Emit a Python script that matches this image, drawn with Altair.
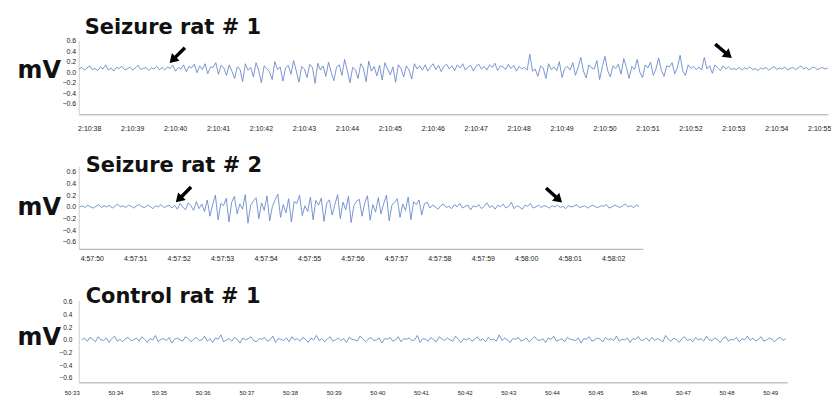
import json
import pandas as pd
import altair as alt

# ---------------- data ----------------
# EEG traces, values in hundredths of a mV, one sample every 1/16 s
sample_step = 1 / 16

seizure1_t0 = 37.76  # seconds after 2:10:00
seizure1 = [
    6, 9, 4, 8, 12, 5, 7, 3, 10, 6, 14, 4, 8, 2, 9, 7, 11, 5, 6, 10, 4, 8, 13, 5, 7, 9, 3, 8, 6, 11, 5, 9,
    4, 10, 7, 13, 2, 9, 6, 14, 1, 11, 8, 15, -1, 12, 5, 16, -3, 10, 9, 18, -4, 13,
    8, -6, 14, 2, -12, 10, 6, -18, 16, 4, 9, -9, 18, 3, -20, 12, 7, 1, -14, 20,
    5, 10, -17, 8, 13, -4, 22, 2, -19, 11, 6, -10, 15, 9, -21, 17, 4, 12, -8, 19,
    0, -16, 10, 14, -6, 24, 3, -20, 9, 5, -12, 16, 8, -18, 21, 2, 11, -7, 13, -15,
    18, 6, -5, 10, -19, 14, 7, -9, 12, 4, -13, 16, 6,
    12, 4, 14, 2, 10, 16, 5, 13, 1, 11, 15, 6, 12, 3, 14, 8, 16, 4, 10, 13,
    2, 12, 15, 6, 11, 4, 14, 9, 17, 3, 12, 10, 5, 15, 7, 13, 2, 11, 6,
    9, 4, 34, 2, 6, -8, 12, 8, -12, 16, 5, 10, 3, 20, -10, 7, 11, 4, 18, -6,
    9, 28, 2, -11, 14, 8, 6, 22, -14, 10, 30, 3, -9, 12, 7, 15, -4, 26, 9, -12,
    11, 5, 24, 0, -10, 14, 8, 19, -6, 6, 27, 4, -8, 12, 10, 18, -3, 9, 32, 2,
    -6, 14, 7, 11, 5,
    10, 4, 28, 6, 12, -2, 14, 8, 3, 12, 6, 10, 5,
    7, 5, 9, 4, 8, 6, 10, 5, 7, 3, 8, 6, 9, 4, 7, 11, 5, 8, 6, 10,
    4, 7, 9, 5, 8, 12, 6, 9, 4, 8, 10, 5, 7, 9, 6, 8,
]

seizure2_t0 = 49.72  # seconds after 4:57:00
seizure2 = [
    0, 2, -1, 3, 0, -2, 1, 4, -1, 2, 0, 3, -2, 1, 5, 0, 2, -1, 3, 1,
    -2, 2, 4, 0, -1, 3, 1, -3, 2, 0, 4, -1, 1, 3, -2,
    3, -4, 6, 0, -5, 7, 2, -6, 9, -3, 5, -8,
    12, -16, 4, 20, -22, 6, 2, 15, -26, 8, 18, -12, 5, -4, 21, -28, 3, 10, 16, -20,
    7, -6, 19, -24, 1, 12, 22, -18, 4, -10, 14, -26, 9, 6, 20, -15, 2, -8, 17, -22,
    11, 3, 15, -25, 6, 12, -14, 4, 21, -20, 8, -5, 18, -27, 2, 10, 13, -16, 7, 19,
    -23, 4, -9, 16, -12, 6, 20, -24, 3, 8, 14, -18, 5, -6, 17, -22, 9, 4, 12, -14,
    6, 8,
    -2, 3, 0, -4, 2, 5, -1, 1, -3, 4, 0, 6, -2, 1, 3, -5, 2, 0, 4, -3,
    1, 7, -1, 2, -4, 3, 0, 5, -2, 1, 8, -3, 2, 0, -4, 3, 1, 6, -2, 0, 3, -1, 2,
    1, -2, 2, 0, 3, -1, 1, -3, 2, 0, 1, 4, -1, 0, 2, -2, 1, 3, 0, -1,
    2, 1, 4, -2, 0, 3, 1, -1, 2, 5, 0, 2, -1, 3, 1,
]

control1_t0 = 33.07  # seconds after 50:00
control1 = [
    0, 3, -2, 4, 1, -3, 5, 0, -1, 3, -4, 2, 6, -2, 1, -3, 2, 4, -1, 0,
    3, -2, 5, 1, -4, 2, 0, 7, -3, 1, 2, -1, 4, -5, 1, 3, 0, -2, 5, 2,
    -3, 1, 4, -1, 0, 6, -2, 2, -4, 3, 1, 8, -3, 0, 2, -2, 4, 1, -5, 3,
    0, 2, 5, -1, -3, 2, 1, 4, -2, 0, 6, -4, 2, 1, -1, 3, -3, 5, 0, 2,
    -2, 4, 1, -4, 3, 0, 7, -1, 2, -3, 1, 5, -2, 0, 3, -1, 2, -4, 4, 1,
    0, -2, 6, 2, -3, 1, 4, -1, 0, 3, -5, 2, 1, 4, -2, 0, 5, -3, 2, 1,
    3, -1, 0, 7, -4, 2, 1, -2, 4, 0, -3, 5, 2, -1, 3, 0, -2, 6, 1, -4,
    2, 0, 3, -2, 1, 5, -1, 2, -3, 4, 0, 1, -2, 8, -1, 3, 0, -4, 2, 1,
    4, -2, 0, 3, -3, 1, 5, 0, -1, 2, -4, 3, 1, 6, -2, 0, 2, -3, 4, 1,
    0, -1, 3, -5, 2, 1, 5, -2, 0, 3, 1, -3, 4, 0, 2, -1, 6, -2, 1, 0,
    3, -4, 2, 1, 5, -1, 0, 3, -2, 4, -1, 2, 0, -3, 7, 1, -2, 3, 0, -4,
    2, 5, -1, 1, -3, 4, 0, 2, -2, 6, 0, -1, 3, 1, -4, 2, 5, -2, 1, 0,
    4, -3, 2, 0, 6, -1, 3, -2, 1, 5, -2, 0, 3, 1, -3, 2, 4, -1, 2,
]

panel_titles = ["Seizure rat # 1", "Seizure rat # 2", "Control rat # 1"]

seizure1_ticks = list(range(38, 56))
seizure1_labels = ["2:10:38", "2:10:39", "2:10:40", "2:10:41", "2:10:42", "2:10:43",
                   "2:10:44", "2:10:45", "2:10:46", "2:10:47", "2:10:48", "2:10:49",
                   "2:10:50", "2:10:51", "2:10:52", "2:10:53", "2:10:54", "2:10:55"]
seizure2_ticks = list(range(50, 63))
seizure2_labels = ["4:57:50", "4:57:51", "4:57:52", "4:57:53", "4:57:54", "4:57:55",
                   "4:57:56", "4:57:57", "4:57:58", "4:57:59", "4:58:00", "4:58:01",
                   "4:58:02"]
control1_ticks = list(range(33, 50))
control1_labels = ["50:33", "50:34", "50:35", "50:36", "50:37", "50:38", "50:39",
                   "50:40", "50:41", "50:42", "50:43", "50:44", "50:45", "50:46",
                   "50:47", "50:48", "50:49"]

mv_ticks = [-0.6, -0.4, -0.2, 0.0, 0.2, 0.4, 0.6]

# onset / offset arrows (time, mV, pointing direction in degrees)
seizure1_arrow_t = [40.05, 52.77]
seizure1_arrow_v = [0.32, 0.40]
seizure1_arrow_dir = [135, 40]
seizure2_arrow_t = [52.11, 60.64]
seizure2_arrow_v = [0.21, 0.20]
seizure2_arrow_dir = [135, 42]

ARROW = "M -1 -0.16 L 0.2 -0.16 L 0.2 -0.5 L 1 0 L 0.2 0.5 L 0.2 0.16 L -1 0.16 Z"
TRACE = "#6485c8"


def panel(t0, vals, title, ticks, labels, xdom, width, ydom, height,
          title_pos, mv_y, ylab_pad, xlab_pad, xlab_size, xlab_off, ylab_size,
          arrow_t=None, arrow_v=None, arrow_dir=None):
    df = pd.DataFrame({
        "t": [t0 + i * sample_step for i in range(len(vals))],
        "v": [x / 100 for x in vals],
    })
    label_expr = f"{json.dumps(labels)}[round(datum.value) - {ticks[0]}]"
    x_enc = alt.X(
        "t:Q",
        scale=alt.Scale(domain=xdom, nice=False, zero=False),
        axis=alt.Axis(
            values=ticks, labelExpr=label_expr, title=None, grid=False, ticks=False,
            labelFont="Liberation Sans", labelFontSize=xlab_size, labelColor="#222222",
            labelPadding=xlab_pad, labelOffset=xlab_off, labelFlush=False,
            labelOverlap=False, domainColor="#a8a8a8", domainWidth=1,
        ),
    )
    y_enc = alt.Y(
        "v:Q",
        scale=alt.Scale(domain=ydom, nice=False, zero=False),
        axis=alt.Axis(
            values=mv_ticks, format=".1f", grid=False, ticks=False,
            labelFont="Liberation Sans", labelFontSize=ylab_size, labelColor="#222222",
            labelPadding=ylab_pad, labelFlush=False, labelOverlap=False,
            domainColor="#cfcfcf", domainWidth=1,
            title="mV", titleAngle=0, titleX=-62, titleY=mv_y, titleAlign="left",
            titleBaseline="middle", titleFont="DejaVu Sans", titleFontSize=24,
            titleFontWeight="bold", titleColor="#111111",
        ),
    )
    line = alt.Chart(df).mark_line(color=TRACE, strokeWidth=0.85, interpolate="linear").encode(
        x=x_enc, y=y_enc
    )
    layers = [line]
    if arrow_t:
        adf = pd.DataFrame({"t": arrow_t, "v": arrow_v, "dir": arrow_dir})
        arrows = alt.Chart(adf).mark_point(
            shape=ARROW, filled=True, color="#000000", opacity=1, size=470, strokeWidth=0
        ).encode(x=x_enc, y=y_enc, angle=alt.Angle("dir:Q", scale=None))
        layers.append(arrows)
    tdf = pd.DataFrame({"label": [title]})
    ttl = alt.Chart(tdf).mark_text(
        align="left", baseline="alphabetic", font="DejaVu Sans", fontSize=21,
        fontWeight="bold", color="#111111"
    ).encode(x=alt.value(title_pos[0]), y=alt.value(title_pos[1]), text="label:N")
    layers.append(ttl)
    return alt.layer(*layers).properties(width=width, height=height)


p1 = panel(seizure1_t0, seizure1, panel_titles[0], seizure1_ticks, seizure1_labels,
           [37.756, 55.204], 752, [-0.8, 0.6], 74, (6, -6.3), 30.5, 3, 10, 7, 0, 7,
           seizure1_arrow_t, seizure1_arrow_v, seizure1_arrow_dir)
p2 = panel(seizure2_t0, seizure2, panel_titles[1], seizure2_ticks, seizure2_labels,
           [49.70, 62.68], 566, [-0.72, 0.7], 83, (7, 6.1), 42, 3, 6, 7, 0, 7,
           seizure2_arrow_t, seizure2_arrow_v, seizure2_arrow_dir)
p3 = panel(control1_t0, control1, panel_titles[2], control1_ticks, control1_labels,
           [33.0, 49.23], 711, [-0.67, 0.62], 82, (7, 2.4), 37.5, 7, 7, 6, -7, 6.5)

chart = alt.vconcat(p1, p2, p3, spacing=52, bounds="flush").properties(
    padding={"left": 9, "top": 8, "right": 0, "bottom": 0},
    background="white",
).configure_view(stroke=None)

chart.save("out.html", embed_options={"renderer": "svg", "actions": False})
